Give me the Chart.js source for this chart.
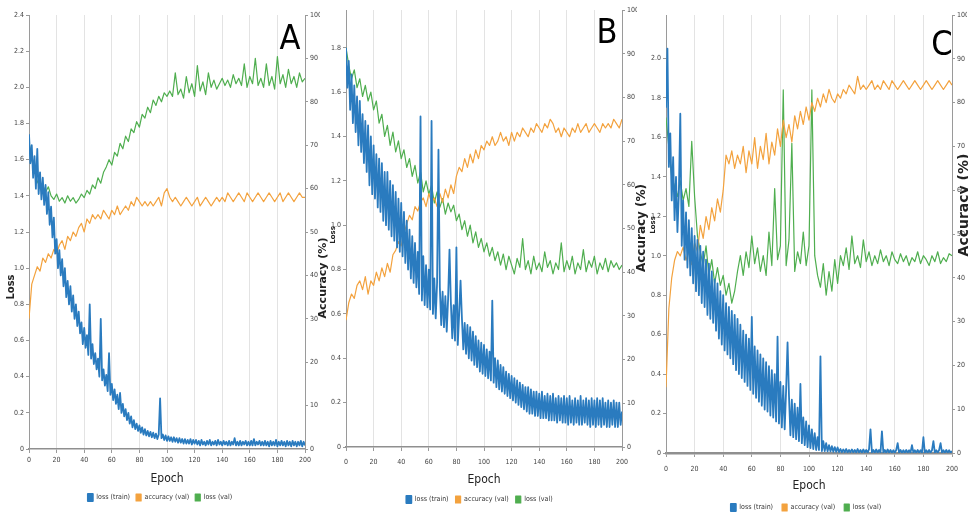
<!DOCTYPE html>
<html><head><meta charset="utf-8">
<script src="https://cdn.jsdelivr.net/npm/chart.js@4.4.0/dist/chart.umd.min.js"></script>
<style>
html,body{margin:0;padding:0;background:#fff;}
#wrap{position:relative;width:968px;height:517px;overflow:hidden;}
#wrap canvas{position:absolute;left:0;top:0;}
</style></head>
<body><div id="wrap">
<canvas id="cA" width="968" height="517"></canvas>
<canvas id="cB" width="968" height="517"></canvas>
<canvas id="cC" width="968" height="517"></canvas>
</div>
<script>
// ---------- data ----------
const SERIES_LABELS = ['loss (train)', 'accuracy (val)', 'loss (val)'];
const PANEL_LETTERS = ['A', 'B', 'C'];
const X_TITLE = 'Epoch';
const Y_LEFT_TITLE = 'Loss';
const Y_RIGHT_TITLE = 'Accuracy (%)';

const EPOCHS_TRAIN = [0,1,2,3,4,5,6,7,8,9,10,11,12,13,14,15,16,17,18,19,20,21,22,23,24,25,26,27,28,29,30,31,32,33,34,35,36,37,38,39,40,41,42,43,44,45,46,47,48,49,50,51,52,53,54,55,56,57,58,59,60,61,62,63,64,65,66,67,68,69,70,71,72,73,74,75,76,77,78,79,80,81,82,83,84,85,86,87,88,89,90,91,92,93,94,95,96,97,98,99,100,101,102,103,104,105,106,107,108,109,110,111,112,113,114,115,116,117,118,119,120,121,122,123,124,125,126,127,128,129,130,131,132,133,134,135,136,137,138,139,140,141,142,143,144,145,146,147,148,149,150,151,152,153,154,155,156,157,158,159,160,161,162,163,164,165,166,167,168,169,170,171,172,173,174,175,176,177,178,179,180,181,182,183,184,185,186,187,188,189,190,191,192,193,194,195,196,197,198,199,200];
const EPOCHS_VAL = [0,2,4,6,8,10,12,14,16,18,20,22,24,26,28,30,32,34,36,38,40,42,44,46,48,50,52,54,56,58,60,62,64,66,68,70,72,74,76,78,80,82,84,86,88,90,92,94,96,98,100,102,104,106,108,110,112,114,116,118,120,122,124,126,128,130,132,134,136,138,140,142,144,146,148,150,152,154,156,158,160,162,164,166,168,170,172,174,176,178,180,182,184,186,188,190,192,194,196,198,200];

// Panel A
const A_LOSS_TRAIN = [
1.74,1.58,1.68,1.50,1.62,1.44,1.66,1.41,1.53,1.38,
1.50,1.35,1.46,1.30,1.42,1.24,1.34,1.17,1.28,1.08,
1.16,1.00,1.10,0.96,1.05,0.90,1.00,0.84,0.93,0.80,
0.90,0.76,0.85,0.72,0.80,0.68,0.76,0.64,0.70,0.58,
0.67,0.56,0.63,0.52,0.80,0.50,0.58,0.47,0.53,0.44,
0.50,0.40,0.72,0.38,0.44,0.35,0.41,0.32,0.53,0.30,
0.36,0.27,0.33,0.25,0.30,0.22,0.31,0.20,0.25,0.18,
0.22,0.16,0.20,0.14,0.18,0.12,0.16,0.11,0.14,0.10,
0.13,0.09,0.12,0.08,0.11,0.075,0.10,0.07,0.095,0.065,
0.09,0.06,0.085,0.055,0.08,0.28,0.06,0.08,0.05,0.075,
0.045,0.07,0.045,0.065,0.04,0.065,0.04,0.06,0.035,0.06,
0.035,0.055,0.03,0.055,0.03,0.05,0.03,0.055,0.025,0.05,
0.03,0.05,0.025,0.045,0.02,0.05,0.025,0.04,0.02,0.045,
0.025,0.05,0.02,0.04,0.025,0.045,0.02,0.05,0.025,0.04,
0.02,0.045,0.025,0.04,0.02,0.045,0.02,0.04,0.025,0.06,
0.02,0.04,0.02,0.045,0.02,0.04,0.025,0.045,0.02,0.04,
0.02,0.045,0.02,0.055,0.02,0.04,0.025,0.045,0.02,0.04,
0.02,0.045,0.02,0.04,0.015,0.045,0.02,0.04,0.02,0.05,
0.015,0.04,0.02,0.045,0.02,0.04,0.015,0.045,0.02,0.04,
0.015,0.045,0.02,0.04,0.015,0.04,0.02,0.045,0.015,0.04,
0.02];
const A_ACC_VAL = [
30,38,40,42,41,44,43,45,44,46,
45,47,48,46,49,48,50,49,51,52,
50,53,52,54,53,54,53,55,54,53,
55,54,56,54,55,56,55,57,56,58,
57,56,57,56,57,56,57,58,56,59,
60,58,57,58,57,56,57,58,57,56,
57,58,56,57,58,57,56,57,58,57,
58,57,59,58,57,58,59,58,57,59,
58,57,58,59,58,57,58,59,58,57,
58,59,57,58,59,58,57,58,59,58,
58];
const A_LOSS_VAL = [
1.70,1.60,1.55,1.48,1.45,1.46,1.42,1.45,1.40,1.38,
1.41,1.37,1.39,1.36,1.40,1.37,1.39,1.36,1.38,1.41,
1.39,1.43,1.41,1.46,1.44,1.50,1.47,1.53,1.56,1.60,
1.57,1.64,1.62,1.69,1.66,1.73,1.70,1.77,1.75,1.81,
1.78,1.85,1.83,1.89,1.86,1.93,1.90,1.95,1.92,1.97,
1.95,1.98,1.95,2.08,1.96,1.99,1.94,2.06,1.97,2.02,
1.95,2.12,1.98,2.03,1.96,2.08,2.00,2.04,1.99,2.02,
2.05,2.01,2.04,2.00,2.07,2.02,2.05,2.01,2.13,2.00,
2.06,2.02,2.16,2.01,2.05,2.00,2.13,2.01,2.06,1.99,
2.17,2.02,2.07,2.00,2.10,2.02,2.06,2.00,2.08,2.03,
2.05];

// Panel B
const B_LOSS_TRAIN = [
1.80,1.62,1.74,1.52,1.68,1.46,1.63,1.42,1.58,1.36,
1.56,1.33,1.50,1.28,1.47,1.24,1.45,1.18,1.40,1.14,
1.36,1.12,1.32,1.08,1.30,1.06,1.28,1.02,1.24,1.00,
1.24,0.98,1.20,0.95,1.18,0.93,1.15,0.90,1.12,0.88,
1.10,0.86,1.06,0.83,1.02,0.80,0.98,0.76,0.95,0.74,
0.92,0.72,0.88,0.69,1.49,0.66,0.86,0.64,0.82,0.63,
0.80,0.62,1.47,0.60,0.76,0.58,0.74,1.34,0.72,0.55,
0.70,0.54,0.68,0.52,0.67,0.89,0.65,0.49,0.64,0.48,
0.90,0.46,0.60,0.75,0.58,0.44,0.56,0.42,0.55,0.40,
0.54,0.39,0.52,0.37,0.50,0.36,0.48,0.34,0.47,0.33,
0.46,0.32,0.44,0.31,0.43,0.30,0.66,0.29,0.40,0.27,
0.39,0.26,0.37,0.25,0.36,0.24,0.34,0.23,0.33,0.22,
0.32,0.21,0.31,0.20,0.30,0.19,0.29,0.18,0.28,0.17,
0.27,0.16,0.27,0.15,0.26,0.15,0.25,0.14,0.25,0.14,
0.24,0.13,0.25,0.13,0.23,0.13,0.24,0.12,0.23,0.12,
0.24,0.12,0.22,0.11,0.23,0.12,0.22,0.11,0.23,0.11,
0.22,0.10,0.23,0.11,0.21,0.10,0.22,0.11,0.21,0.10,
0.23,0.10,0.21,0.11,0.22,0.10,0.21,0.09,0.22,0.10,
0.21,0.09,0.22,0.10,0.21,0.09,0.22,0.10,0.20,0.09,
0.21,0.09,0.20,0.10,0.21,0.09,0.20,0.09,0.20,0.10,
0.16];
const B_ACC_VAL = [
29,33,35,34,37,38,36,39,35,38,
37,40,38,41,39,42,40,44,45,47,
46,49,51,53,52,55,54,56,57,55,
58,56,57,55,58,56,59,57,60,58,
62,64,63,66,64,67,65,68,66,69,
68,70,69,71,69,70,72,70,71,69,
72,70,72,71,73,72,71,73,72,74,
73,72,74,73,75,74,72,73,71,73,
72,71,73,72,74,72,73,74,72,73,
74,73,72,74,73,74,73,75,74,73,
75];
const B_LOSS_VAL = [
1.80,1.72,1.66,1.70,1.62,1.66,1.58,1.63,1.56,1.60,
1.52,1.56,1.46,1.50,1.40,1.45,1.36,1.42,1.33,1.38,
1.30,1.34,1.26,1.30,1.22,1.27,1.19,1.24,1.15,1.20,
1.14,1.18,1.10,1.15,1.08,1.12,1.05,1.10,1.06,1.09,
1.02,1.05,0.98,1.02,0.95,1.00,0.92,0.97,0.90,0.94,
0.88,0.92,0.86,0.90,0.84,0.88,0.82,0.87,0.80,0.86,
0.82,0.78,0.85,0.81,0.94,0.80,0.84,0.78,0.86,0.80,
0.83,0.79,0.88,0.81,0.84,0.78,0.83,0.80,0.92,0.79,
0.84,0.80,0.86,0.78,0.83,0.80,0.89,0.79,0.84,0.81,
0.86,0.78,0.83,0.80,0.85,0.79,0.84,0.81,0.83,0.80,
0.82];

// Panel C
const C_LOSS_TRAIN = [
1.75,2.05,1.45,1.62,1.28,1.50,1.18,1.40,1.12,1.32,
1.72,1.05,1.28,0.98,1.22,0.94,1.18,0.90,1.14,0.86,
1.10,0.82,1.08,0.80,1.05,0.76,1.02,0.74,0.98,0.70,
0.96,0.68,0.92,0.66,0.88,0.62,0.86,0.58,0.82,0.55,
0.80,0.52,0.76,0.50,0.74,0.48,0.72,0.45,0.70,0.42,
0.68,0.40,0.65,0.38,0.62,0.36,0.60,0.34,0.58,0.32,
0.69,0.30,0.54,0.28,0.52,0.26,0.50,0.24,0.48,0.22,
0.46,0.21,0.44,0.19,0.42,0.18,0.40,0.16,0.59,0.15,
0.36,0.13,0.34,0.12,0.32,0.56,0.29,0.09,0.27,0.08,
0.25,0.07,0.23,0.06,0.35,0.05,0.18,0.04,0.16,0.03,
0.14,0.025,0.12,0.02,0.10,0.015,0.08,0.015,0.49,0.01,
0.06,0.01,0.05,0.008,0.04,0.008,0.035,0.006,0.03,0.006,
0.028,0.005,0.02,0.004,0.018,0.004,0.02,0.003,0.015,0.004,
0.018,0.003,0.015,0.003,0.02,0.003,0.015,0.002,0.018,0.003,
0.015,0.002,0.02,0.12,0.003,0.015,0.002,0.018,0.002,0.015,
0.003,0.11,0.002,0.015,0.002,0.018,0.002,0.015,0.002,0.014,
0.002,0.015,0.05,0.002,0.015,0.002,0.014,0.002,0.015,0.002,
0.014,0.002,0.04,0.002,0.014,0.002,0.015,0.002,0.014,0.002,
0.08,0.002,0.014,0.002,0.015,0.002,0.014,0.06,0.002,0.014,
0.002,0.015,0.05,0.002,0.014,0.002,0.015,0.002,0.014,0.002,
0.01];
const C_ACC_VAL = [
15,33,40,44,46,45,47,44,46,43,
48,46,52,49,54,51,56,53,58,55,
60,68,66,69,65,68,66,70,64,69,
66,72,65,70,67,73,66,71,68,74,
70,76,72,75,71,77,74,78,75,79,
76,80,78,81,79,82,80,83,81,80,
82,81,83,82,84,83,82,86,83,84,
83,84,85,83,84,83,85,84,83,85,
84,83,84,85,84,83,84,85,84,83,
84,85,84,83,84,85,84,83,84,85,
84];
const C_LOSS_VAL = [
1.70,1.55,1.40,1.35,1.30,1.38,1.28,1.34,1.25,1.58,
1.30,1.10,1.02,0.95,1.05,0.90,0.98,0.86,0.94,0.85,
0.90,0.80,0.86,0.76,0.82,0.92,1.00,0.90,1.02,0.94,
1.10,0.96,1.04,0.92,1.00,0.90,1.12,0.95,1.34,0.98,
1.05,1.84,0.95,1.08,1.57,0.92,1.02,0.96,1.12,0.95,
1.05,1.84,1.00,0.90,0.84,0.96,0.80,0.92,0.82,0.98,
0.86,1.00,0.95,1.04,0.93,1.10,0.96,1.00,0.94,1.08,
0.97,1.02,0.95,1.00,0.96,1.03,0.97,1.00,0.95,1.02,
0.98,0.96,1.01,0.97,1.00,0.95,0.99,0.97,1.02,0.96,
1.00,0.98,0.95,1.00,0.97,1.02,0.96,0.99,0.97,1.01,
1.00];

// ---------- styling / layout ----------
const BLUE = '#2a7bbf', ORANGE = '#f3a23e', GREEN = '#4fae4f';
const TICK_FONT = {family:'"DejaVu Sans Condensed","Liberation Sans Narrow","DejaVu Sans",sans-serif', size:7};
const pts = (xs, ys) => ys.map((y, i) => ({x: xs[i], y: y}));

const textPlugin = (items) => ({
  id: 'panelText',
  afterDraw(chart) {
    const ctx = chart.ctx;
    items.forEach(it => {
      ctx.save();
      ctx.translate(it.x, it.y);
      if (it.rot) ctx.rotate(-Math.PI / 2);
      ctx.font = it.font;
      ctx.fillStyle = it.color || '#222';
      ctx.textAlign = 'center';
      ctx.textBaseline = 'middle';
      ctx.fillText(it.text, 0, 0);
      ctx.restore();
    });
  }
});
const legendHeight = (h) => ({
  id: 'legendHeight',
  beforeUpdate(chart) {
    const lg = chart.legend;
    if (lg && !lg._patched) {
      const f = lg.fit;
      lg.fit = function () { f.call(this); this.height = h; };
      lg._patched = true;
    }
  }
});

function makePanel(id, L) {
  const onStep = (s) => { s.ticks = s.ticks.filter(t => Math.abs(t.value / 0.2 - Math.round(t.value / 0.2)) < 1e-6); };
  new Chart(document.getElementById(id), {
    type: 'line',
    data: {
      datasets: [
        {label: SERIES_LABELS[0], data: pts(EPOCHS_TRAIN, L.lossTrain), yAxisID: 'yL', borderColor: BLUE, backgroundColor: BLUE, borderWidth: 1.8, borderJoinStyle: 'round', pointRadius: 0, tension: 0},
        {label: SERIES_LABELS[1], data: pts(EPOCHS_VAL, L.accVal), yAxisID: 'yR', borderColor: ORANGE, backgroundColor: ORANGE, borderWidth: 1.2, borderJoinStyle: 'round', pointRadius: 0, tension: 0},
        {label: SERIES_LABELS[2], data: pts(EPOCHS_VAL, L.lossVal), yAxisID: 'yL', borderColor: GREEN, backgroundColor: GREEN, borderWidth: 1.2, borderJoinStyle: 'round', pointRadius: 0, tension: 0}
      ]
    },
    options: {
      responsive: false, animation: false, events: [],
      layout: {padding: {left: L.padL, right: L.padR, top: L.top, bottom: L.padB}},
      plugins: {
        tooltip: {enabled: false},
        legend: {position: 'bottom', labels: {boxWidth: 5, boxHeight: 7, padding: L.legPad, color: '#333', font: {family: TICK_FONT.family, size: 7}}}
      },
      scales: {
        x: {
          type: 'linear', min: 0, max: 200,
          ticks: {stepSize: 20, font: TICK_FONT, color: '#444', padding: L.tickPad, maxRotation: 0, autoSkip: false},
          grid: {color: '#e3e3e3', tickLength: 4, tickColor: '#9a9a9a'},
          border: {color: '#8f8f8f', width: L.xBorder},
          title: {display: true, text: X_TITLE, color: '#222', font: {family: '"Liberation Sans Narrow","DejaVu Sans Condensed",sans-serif', size: 12}, padding: {top: 0, bottom: 2}},
          afterFit(s) { s.height = L.xH; }
        },
        yL: {
          position: 'left', min: 0, max: L.lossMax,
          afterBuildTicks: onStep,
          ticks: {stepSize: 0.2, font: TICK_FONT, color: '#444', padding: 2, callback: v => v === 0 ? '0' : Number(v).toFixed(1)},
          grid: {display: true, drawOnChartArea: false, tickLength: 3, color: '#9a9a9a'},
          border: {color: '#9a9a9a'},
          afterFit(s) { s.width = L.yLW; }
        },
        yR: {
          position: 'right', min: 0, max: 100,
          ticks: {stepSize: 10, font: TICK_FONT, color: '#444', padding: 2},
          grid: {display: true, drawOnChartArea: false, tickLength: 3, color: '#9a9a9a'},
          border: {color: '#9a9a9a'},
          afterFit(s) { s.width = 15; }
        }
      }
    },
    plugins: [legendHeight(L.legH), textPlugin(L.texts)]
  });
}

const LETTER_FONT = '34px "Liberation Sans Narrow","DejaVu Sans Condensed",sans-serif';
const TITLE_FONT = (sz) => '600 ' + sz + 'px "DejaVu Sans","Liberation Sans",sans-serif';

makePanel('cA', {
  lossTrain: A_LOSS_TRAIN, accVal: A_ACC_VAL, lossVal: A_LOSS_VAL,
  lossMax: 2.4, padL: 0, padR: 648, top: 15, padB: 9, xH: 39, legH: 20, legPad: 6, tickPad: 3, yLW: 29, xBorder: 1.5,
  texts: [
    {text: PANEL_LETTERS[0], x: 290, y: 40, font: LETTER_FONT, color: '#000'},
    {text: Y_LEFT_TITLE, x: 11, y: 287, rot: true, font: TITLE_FONT(10)},
    {text: Y_RIGHT_TITLE, x: 323, y: 278, rot: true, font: TITLE_FONT(11)}
  ]
});
makePanel('cB', {
  lossTrain: B_LOSS_TRAIN, accVal: B_ACC_VAL, lossVal: B_LOSS_VAL,
  lossMax: 1.97, padL: 322, padR: 331, top: 10, padB: 8, xH: 42, legH: 20, legPad: 7, tickPad: 7, yLW: 24, xBorder: 1.5,
  texts: [
    {text: PANEL_LETTERS[1], x: 607, y: 34, font: LETTER_FONT, color: '#000'},
    {text: Y_LEFT_TITLE, x: 333, y: 235, rot: true, font: TITLE_FONT(7)},
    {text: Y_RIGHT_TITLE, x: 642, y: 228, rot: true, font: TITLE_FONT(12)}
  ]
});
makePanel('cC', {
  lossTrain: C_LOSS_TRAIN, accVal: C_ACC_VAL, lossVal: C_LOSS_VAL,
  lossMax: 2.22, padL: 645, padR: 1, top: 15, padB: 3, xH: 42, legH: 19, legPad: 9, tickPad: 8, yLW: 21, xBorder: 2.5,
  texts: [
    {text: PANEL_LETTERS[2], x: 942, y: 46, font: LETTER_FONT, color: '#000'},
    {text: Y_LEFT_TITLE, x: 653, y: 225, rot: true, font: TITLE_FONT(7)},
    {text: Y_RIGHT_TITLE, x: 964, y: 205, rot: true, font: TITLE_FONT(14)}
  ]
});
</script>
</body></html>
